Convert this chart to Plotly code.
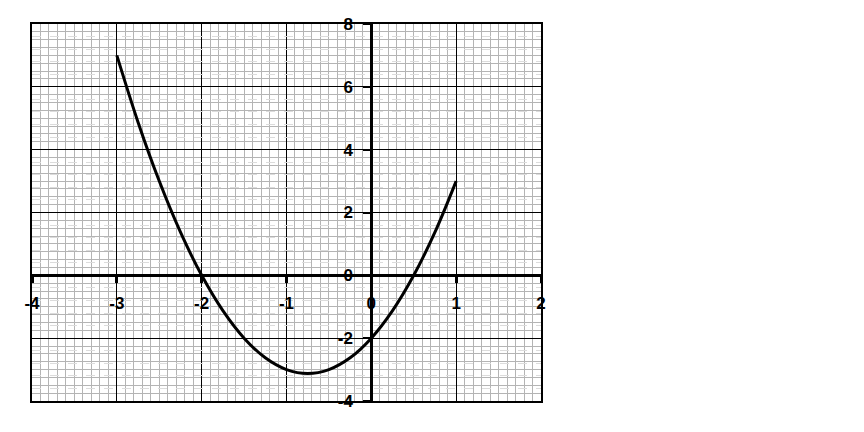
import numpy as np
import plotly.graph_objects as go

# Data
x_vals = [-3, -2.75, -2.5, -2.25, -2, -1.75, -1.5, -1.25, -1, -0.75, -0.5, -0.25,
          0, 0.25, 0.5, 0.75, 1]
y_vals = [7, 4.875, 3, 1.375, 0, -1.125, -2, -2.625, -3, -3.125, -3, -2.625,
          -2, -1.125, 0, 1.375, 3]
x_ticks = [-4, -3, -2, -1, 0, 1, 2]
y_ticks = [-4, -2, 0, 2, 4, 6, 8]

X_RANGE = [-4, 2]
Y_RANGE = [-4, 8]

tickfont = dict(family="Liberation Sans, Arial, sans-serif", size=17, color="black", weight=700)


def off_major(step, lo, hi, major):
    vals = np.round(np.arange(lo, hi + 1e-9, step), 3)
    return [float(v) for v in vals if abs(v / major - round(v / major)) > 1e-6]


x_minor = off_major(0.1, -4, 2, 1)
y_minor = off_major(0.25, -4, 8, 2)
y_dash = off_major(0.4, -4, 8, 2)

fig = go.Figure()
fig.add_trace(go.Scatter(x=x_vals, y=y_vals, mode="lines",
                         line=dict(color="black", width=3, shape="spline"),
                         showlegend=False, hoverinfo="skip"))
# invisible trace for the overlay axes (frame + dashed grid)
fig.add_trace(go.Scatter(x=[X_RANGE[0]], y=[Y_RANGE[0]], xaxis="x2", yaxis="y2",
                         mode="markers", marker=dict(opacity=0), showlegend=False,
                         hoverinfo="skip"))

fig.update_layout(
    width=856, height=424,
    margin=dict(l=24, r=323, t=16, b=31, autoexpand=False),
    paper_bgcolor="white", plot_bgcolor="white",
    xaxis=dict(range=X_RANGE, tickvals=x_ticks, ticktext=[f"<b>{t}</b>" for t in x_ticks],
               showgrid=True, gridcolor="black", gridwidth=1.2,
               minor=dict(tickvals=x_minor, showgrid=True, gridcolor="#b4b4b4", gridwidth=1, ticks=""),
               zeroline=False, showline=True, linecolor="black", linewidth=3,
               anchor="free", position=1/3, automargin=False,
               ticks="outside", ticklen=6, tickwidth=3, tickcolor="black",
               ticklabelstandoff=5,
               tickfont=tickfont, layer="above traces"),
    yaxis=dict(range=Y_RANGE, tickvals=y_ticks, ticktext=[f"<b>{t}</b>" for t in y_ticks],
               showgrid=True, gridcolor="black", gridwidth=1.2,
               minor=dict(tickvals=y_minor, showgrid=True, gridcolor="#b4b4b4", gridwidth=1, ticks=""),
               zeroline=False, showline=True, linecolor="black", linewidth=3,
               anchor="free", position=2/3, automargin=False,
               ticks="outside", ticklen=7, tickwidth=2, tickcolor="black",
               ticklabelstandoff=7,
               tickfont=tickfont, layer="above traces"),
    xaxis2=dict(range=X_RANGE, overlaying="x", showgrid=False, zeroline=False,
                showline=True, mirror=True, linecolor="black", linewidth=1.5,
                showticklabels=False, ticks="", anchor="y2", automargin=False),
    yaxis2=dict(range=Y_RANGE, overlaying="y", tickvals=y_dash, showgrid=True,
                gridcolor="#dcdcdc", griddash="dash", gridwidth=1, zeroline=False,
                showline=True, mirror=True, linecolor="black", linewidth=1.5,
                showticklabels=False, ticks="", anchor="x2", automargin=False),
)

fig.write_html("out.html")
